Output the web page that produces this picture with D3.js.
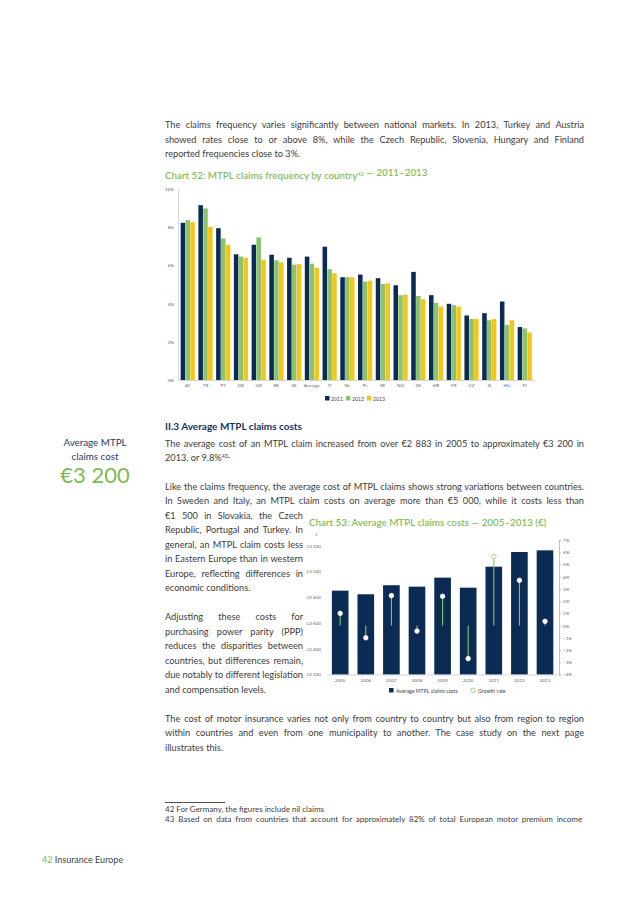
<!DOCTYPE html>
<html><head><meta charset="utf-8">
<script src="https://cdn.jsdelivr.net/npm/d3@7"></script>
<style>
html,body{margin:0;padding:0;background:#fff;}
svg{display:block;}
text{font-family:Lato,"Open Sans",sans-serif;}
</style></head>
<body>
<svg id="page" width="638" height="903"></svg>
<script>
// ---------- data ----------
const countries = ["AT","TR","PT","DE","GR","BE","SE","Average","IT","NL","PL","EE","NO","SK","HR","FR","CZ","SI","HU","FI"];
const freqYears = ["2011","2012","2013"];
const freq2011 = [8.23,9.15,7.95,6.58,7.08,6.56,6.40,6.46,6.98,5.38,5.52,5.33,4.96,5.66,4.44,3.99,3.38,3.50,4.11,2.77];
const freq2012 = [8.37,8.98,7.41,6.46,7.47,6.27,6.04,6.09,5.80,5.38,5.15,5.03,4.44,4.40,4.04,3.92,3.19,3.13,2.89,2.70];
const freq2013 = [8.27,8.02,7.08,6.40,6.30,6.16,6.07,5.88,5.59,5.38,5.20,5.06,4.47,4.23,3.85,3.85,3.20,3.19,3.13,2.49];
const freqTicks = [0,2,4,6,8,10];

const costYears = ["2005","2006","2007","2008","2009","2010","2011","2012","2013"];
const avgCost = [2851,2823,2893,2882,2952,2874,3037,3151,3164];
const growthRate = [1.0,-1.0,2.45,-0.45,2.4,-2.7,5.66,3.7,0.35];
const costTicks = [2200,2400,2600,2800,3000,3200];
const rateTicks = [-4,-3,-2,-1,0,1,2,3,4,5,6,7];

// ---------- styles ----------
const NAVY="#0b2a54", GREEN="#8cc46c", YELLOW="#f6c51b", TITLEG="#86bc5a", TXT="#3c3c3c";
const svg = d3.select("#page");
const BODY = 9.2;

// ---------- body text helper (justify with word spacing) ----------
function line(x, y, str, width, opts={}) {
  const t = svg.append("text").attr("x", x).attr("y", y)
    .attr("font-size", opts.size||BODY).attr("fill", opts.fill||TXT)
    .attr("font-weight", opts.weight||400);
  let plain;
  if (Array.isArray(str)) {
    plain = str.map(s=>s.t).join("");
    str.forEach(s => {
      const ts = t.append("tspan").text(s.t);
      if (s.sup) ts.attr("font-size", 5.4).attr("dy", -3.2);
    });
  } else { t.text(str); plain = str; }
  if (width) {
    const nat = t.node().getComputedTextLength();
    const spaces = (plain.match(/ /g)||[]).length;
    const ws = spaces ? (width - nat)/spaces : 0;
    if (ws > -1.6) t.style("word-spacing", ws + "px");
    else t.attr("textLength", width).attr("lengthAdjust", "spacingAndGlyphs");
  }
  return t;
}
const X0 = 165, FULL = 419, NARROW = 138, LH = 14.5;

// paragraph 1
line(X0, 128, "The claims frequency varies significantly between national markets. In 2013, Turkey and Austria", FULL);
line(X0, 128+LH, "showed rates close to or above 8%, while the Czech Republic, Slovenia, Hungary and Finland", FULL);
line(X0, 128+2*LH, "reported frequencies close to 3%.");

// chart 52 title
line(X0, 179, [{t:"Chart 52: MTPL claims frequency by country"},{t:"42",sup:true},{t:" — 2011–2013"}], null,
  {size:9.8, fill:TITLEG, weight:600});

// ---------- chart 52 ----------
{
  const x0 = d3.scaleBand().domain(countries).range([178, 534.5]).paddingInner(0.2).paddingOuter(0.15);
  const x1 = d3.scaleBand().domain(freqYears).range([0, x0.bandwidth()]).paddingInner(0.06);
  const y = d3.scaleLinear().domain([0, 10]).range([380, 189]);
  const col = d3.scaleOrdinal().domain(freqYears).range([NAVY, GREEN, YELLOW]);
  const series = {"2011":freq2011,"2012":freq2012,"2013":freq2013};
  const g = svg.append("g");
  const yAxis = g.append("g").attr("transform","translate(178,0)")
    .call(d3.axisLeft(y).tickValues(freqTicks).tickSize(0).tickPadding(4).tickFormat(d=>d+"%"));
  yAxis.select(".domain").attr("stroke", "#bbb").attr("stroke-width",0.6);
  yAxis.selectAll("text").attr("font-size",4.6).attr("fill","#666").attr("font-family","Lato,sans-serif");
  const grp = g.selectAll(".grp").data(countries).join("g")
    .attr("transform", d=>`translate(${x0(d)},0)`);
  grp.selectAll("rect").data((d,i)=>freqYears.map(yr=>({yr, v:series[yr][i]}))).join("rect")
    .attr("x", d=>x1(d.yr)).attr("width", x1.bandwidth())
    .attr("y", d=>y(d.v)).attr("height", d=>y(0)-y(d.v)).attr("fill", d=>col(d.yr));
  const xAxis = g.append("g").attr("transform","translate(0,380)")
    .call(d3.axisBottom(x0).tickSize(0).tickPadding(4));
  xAxis.select(".domain").attr("stroke","#bbb").attr("stroke-width",0.6);
  xAxis.selectAll("text").attr("font-size",4.6).attr("fill","#666").attr("font-family","Lato,sans-serif");
  // legend
  const lg = g.append("g").attr("transform","translate(325,396)");
  const lx = d3.scalePoint().domain(freqYears).range([0, 42]);
  freqYears.forEach(yr=>{
    lg.append("rect").attr("x",lx(yr)).attr("y",0).attr("width",4.5).attr("height",4.5).attr("fill",col(yr));
    lg.append("text").attr("x",lx(yr)+6).attr("y",4.5).attr("font-size",5.2).attr("fill","#444").text(yr);
  });
}

// ---------- section II.3 ----------
line(X0, 430, "II.3 Average MTPL claims costs", null, {size:10, fill:"#15335f", weight:700});
line(X0, 446.5, "The average cost of an MTPL claim increased from over €2 883 in 2005 to approximately €3 200 in", FULL);
line(X0, 446.5+LH, [{t:"2013, or 9.8%"},{t:"43",sup:true},{t:"."}]);

// sidebar
svg.append("text").attr("x",95).attr("y",446).attr("text-anchor","middle").attr("font-size",9.8).attr("fill","#1e3a66").text("Average MTPL");
svg.append("text").attr("x",95).attr("y",460).attr("text-anchor","middle").attr("font-size",9.8).attr("fill","#1e3a66").text("claims cost");
svg.append("text").attr("x",95).attr("y",483).attr("text-anchor","middle").attr("font-size",22).attr("fill","#7dba55").text("€3 200");

let yy = 489.5;
line(X0, yy, "Like the claims frequency, the average cost of MTPL claims shows strong variations between countries.", FULL); yy+=LH;
line(X0, yy, "In Sweden and Italy, an MTPL claim costs on average more than €5 000, while it costs less than", FULL); yy+=LH;
const narrow = [
  ["€1 500 in Slovakia, the Czech",true],
  ["Republic, Portugal and Turkey. In",true],
  ["general, an MTPL claim costs less",true],
  ["in Eastern Europe than in western",true],
  ["Europe, reflecting differences in",true],
  ["economic conditions.",false],
  ["",false],
  ["Adjusting these costs for",true],
  ["purchasing power parity (PPP)",true],
  ["reduces the disparities between",true],
  ["countries, but differences remain,",true],
  ["due notably to different legislation",true],
  ["and compensation levels.",false]
];
narrow.forEach(([s,j])=>{ if(s) line(X0, yy, s, j?NARROW:null); yy+=LH; });
yy += LH;
line(X0, yy, "The cost of motor insurance varies not only from country to country but also from region to region", FULL); yy+=LH;
line(X0, yy, "within countries and even from one municipality to another. The case study on the next page", FULL); yy+=LH;
line(X0, yy, "illustrates this.");

// ---------- chart 53 ----------
line(309, 526, "Chart 53: Average MTPL claims costs — 2005–2013 (€)", null, {size:9.8, fill:TITLEG, weight:600});
{
  const g = svg.append("g");
  const x = d3.scaleBand().domain(costYears).range([327.4, 557.8]).paddingInner(0.35).paddingOuter(0.175);
  const yL = d3.scaleLinear().domain([2200, 3200]).range([674.5, 545.7]);
  const yR = d3.scaleLinear().domain([-4, 7]).range([674.5, 540]);
  const fmtE = d => "€" + d3.format(",")(d).replace(",", " ");
  g.append("text").attr("x",315).attr("y",535.5).attr("font-size",4.6).attr("fill","#666").text("€");
  const la = g.append("g").attr("transform","translate(324,0)")
    .call(d3.axisLeft(yL).tickValues(costTicks).tickSize(0).tickPadding(3).tickFormat(fmtE));
  la.select(".domain").remove();
  la.selectAll("text").attr("font-size",4.6).attr("fill","#666").attr("font-family","Lato,sans-serif");
  const ra = g.append("g").attr("transform","translate(559,0)")
    .call(d3.axisRight(yR).tickValues(rateTicks).tickSize(2).tickPadding(2).tickFormat(d=>(d<0?"−"+(-d):d)+"%"));
  ra.select(".domain").attr("stroke","#999").attr("stroke-width",0.6);
  ra.selectAll("line").attr("stroke","#999").attr("stroke-width",0.6);
  ra.selectAll("text").attr("font-size",4.6).attr("fill","#666").attr("font-family","Lato,sans-serif");
  g.selectAll(".bar").data(costYears).join("rect")
    .attr("x", d=>x(d)).attr("width", x.bandwidth())
    .attr("y", (d,i)=>yL(avgCost[i])).attr("height",(d,i)=>yL(2200)-yL(avgCost[i])).attr("fill", NAVY);
  const ba = g.append("g").attr("transform","translate(0,674.5)")
    .call(d3.axisBottom(x).tickSize(0).tickPadding(4));
  ba.select(".domain").attr("stroke","#bbb").attr("stroke-width",0.6);
  ba.selectAll("text").attr("font-size",4.6).attr("fill","#666").attr("font-family","Lato,sans-serif");
  const cx = d => x(d) + x.bandwidth()/2;
  g.selectAll(".gl").data(costYears).join("line")
    .attr("x1",cx).attr("x2",cx).attr("y1",yR(0)).attr("y2",(d,i)=>yR(growthRate[i]))
    .attr("stroke",GREEN).attr("stroke-width",1.1);
  g.selectAll(".gp").data(costYears).join("circle")
    .attr("cx",cx).attr("cy",(d,i)=>yR(growthRate[i])).attr("r",2.3)
    .attr("fill","#fff").attr("stroke",(d,i)=>yR(growthRate[i]) < yL(avgCost[i]) ? GREEN : "#fff")
    .attr("stroke-width",0.7);
  // legend
  g.append("rect").attr("x",389).attr("y",688).attr("width",4.5).attr("height",4.5).attr("fill",NAVY);
  g.append("text").attr("x",396).attr("y",692.6).attr("font-size",5.2).attr("fill","#444").text("Average MTPL claims costs");
  g.append("circle").attr("cx",473).attr("cy",690.3).attr("r",2.2).attr("fill","#fff").attr("stroke",GREEN).attr("stroke-width",0.8);
  g.append("text").attr("x",478).attr("y",692.6).attr("font-size",5.2).attr("fill","#444").text("Growth rate");
}

// ---------- footnotes & footer ----------
svg.append("line").attr("x1",165).attr("x2",225).attr("y1",802.5).attr("y2",802.5).attr("stroke","#222").attr("stroke-width",0.8);
line(X0, 812, "42  For Germany, the figures include nil claims", null, {size:8});
line(X0, 821.5, "43  Based on data from countries that account for approximately 82% of total European motor premium income", FULL, {size:8});
svg.append("text").attr("x",42).attr("y",863).attr("font-size",9).attr("fill","#444")
  .call(t=>{ t.append("tspan").attr("fill","#7dba55").text("42"); t.append("tspan").text(" Insurance Europe"); });
</script>
</body></html>
